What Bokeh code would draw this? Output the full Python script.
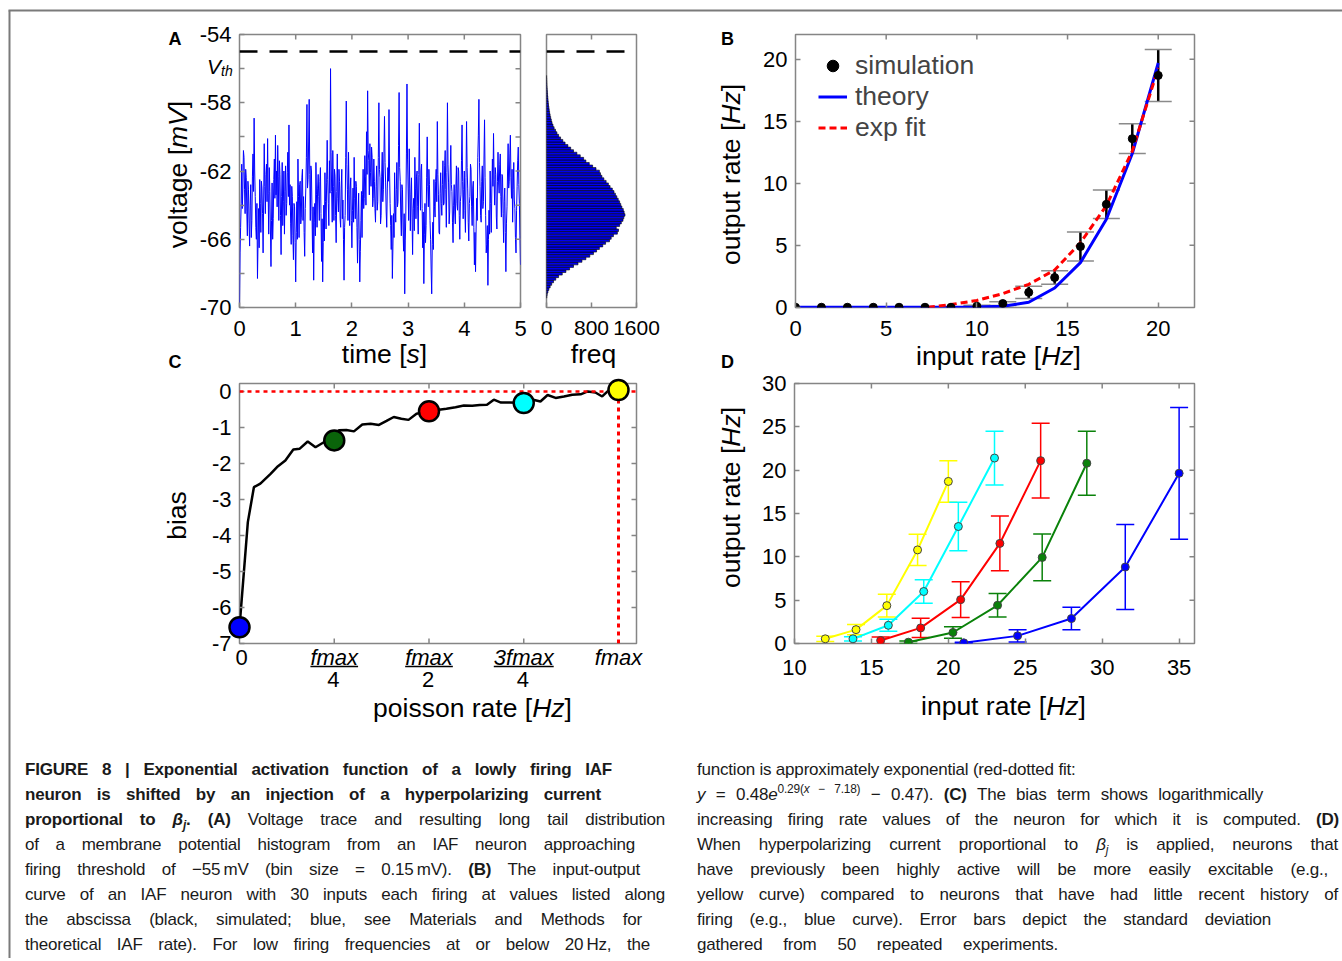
import numpy as np
from math import pi
from bokeh.plotting import figure
from bokeh.models import (Range1d, FixedTicker, Span, Whisker, TeeHead, GridBox,
                          ColumnDataSource, Legend, LegendItem, Div)
from bokeh.layouts import row, column
from bokeh.core.properties import value
from bokeh.embed import file_html
from bokeh.resources import INLINE

# ---------------- data ----------------
# Panel A: membrane voltage trace (mV), sampled every 0.01 s over 0..5 s
voltage_mv = [
    -70.0, -66.8, -65.3, -63.9, -61.6, -64.2, -63.0, -60.8, -61.2, -63.1, -64.5, -61.9, -62.4, -64.4, -65.8, -62.6, -63.1, -65.1, -66.4, -64.0,
    -62.8, -65.9, -64.9, -62.3, -61.0, -63.2, -58.9, -62.0, -63.5, -65.3, -66.0, -63.9, -68.3, -66.1, -64.2, -66.5, -62.5, -63.9, -65.6, -62.6,
    -63.0, -64.5, -66.8, -63.7, -60.4, -62.9, -64.5, -62.2, -61.6, -63.8, -60.1, -63.3, -65.7, -61.8, -63.2, -65.4, -67.6, -64.9, -62.7, -66.0,
    -64.8, -62.5, -61.3, -63.6, -59.9, -63.4, -62.0, -64.1, -60.5, -62.3, -64.9, -61.4, -62.2, -64.6, -66.9, -63.5, -61.5, -65.2, -63.8, -62.0,
    -65.7, -63.2, -61.7, -64.6, -63.9, -62.1, -60.9, -63.5, -59.3, -64.0, -62.8, -65.1, -66.3, -62.9, -63.5, -65.8, -67.2, -63.9, -64.1, -66.2,
    -68.5, -65.6, -63.8, -66.0, -61.3, -63.5, -65.9, -62.8, -62.6, -65.1, -64.7, -62.4, -61.9, -64.9, -63.5, -65.6, -67.0, -64.2, -63.0, -61.2,
    -58.1, -63.0, -62.5, -60.3, -57.8, -62.2, -64.9, -61.7, -62.0, -64.4, -66.8, -64.1, -68.4, -65.0, -63.9, -65.8, -61.5, -63.4, -65.3, -63.0,
    -62.2, -63.5, -64.9, -62.6, -61.8, -64.5, -67.3, -64.8, -68.5, -66.2, -64.0, -66.1, -62.1, -63.8, -65.4, -62.7, -60.2, -62.5, -63.9, -65.2,
    -61.4, -63.3, -56.0, -60.9, -63.2, -65.0, -60.8, -62.9, -64.9, -61.9, -62.3, -64.6, -66.2, -63.2, -61.0, -63.6, -64.4, -61.9, -62.6, -64.8,
    -65.3, -63.0, -61.9, -64.8, -63.7, -66.0, -68.4, -65.3, -64.6, -61.2, -57.9, -61.6, -63.1, -64.9, -60.9, -63.4, -65.2, -63.0, -62.4, -64.9,
    -66.5, -64.3, -63.0, -65.0, -61.2, -63.6, -64.8, -62.6, -62.9, -65.3, -67.4, -64.7, -63.3, -66.0, -68.5, -66.7, -64.9, -63.2, -65.9, -63.4,
    -61.9, -64.2, -63.6, -61.1, -62.3, -64.0, -59.7, -62.2, -57.3, -60.8, -61.4, -63.4, -60.4, -62.1, -62.9, -60.6, -61.2, -64.1, -63.6, -61.3,
    -62.6, -64.2, -65.0, -62.9, -61.7, -64.3, -63.8, -61.2, -58.0, -61.9, -62.4, -65.1, -64.6, -62.3, -60.9, -63.8, -63.1, -61.0, -58.8, -61.5,
    -62.7, -64.4, -65.3, -63.0, -61.8, -62.6, -58.4, -62.0, -63.9, -65.2, -66.6, -64.6, -68.3, -66.4, -64.5, -65.9, -62.1, -64.0, -65.0, -63.1,
    -61.5, -64.1, -63.8, -60.5, -57.4, -61.8, -62.6, -64.7, -65.8, -62.8, -63.1, -65.4, -66.7, -64.5, -69.2, -66.1, -64.4, -61.0, -56.9, -61.3,
    -63.0, -64.9, -60.7, -63.0, -65.5, -63.4, -62.4, -64.7, -66.9, -64.2, -63.6, -65.5, -61.2, -63.0, -64.8, -62.3, -62.0, -64.1, -65.7, -62.2,
    -59.2, -62.4, -64.3, -62.0, -61.6, -64.2, -66.5, -64.4, -68.6, -65.7, -63.9, -66.2, -65.2, -62.4, -60.0, -62.9, -64.1, -61.9, -62.8, -64.9,
    -66.0, -67.8, -69.2, -66.3, -65.0, -66.6, -62.5, -64.1, -64.7, -62.6, -61.9, -63.8, -59.1, -62.2, -63.4, -65.6, -65.7, -63.3, -62.1, -63.9,
    -64.6, -62.8, -61.4, -64.0, -63.9, -61.7, -60.8, -63.1, -65.3, -62.1, -58.0, -61.6, -62.7, -65.1, -64.4, -62.0, -60.5, -62.8, -63.2, -65.0,
    -66.2, -64.0, -62.8, -64.4, -65.1, -63.0, -61.7, -63.9, -64.3, -61.8, -62.0, -64.6, -66.0, -63.8, -63.4, -61.4, -59.3, -62.6, -64.8, -63.1,
    -62.0, -64.3, -65.6, -62.4, -59.1, -61.8, -63.0, -65.0, -66.1, -63.9, -63.5, -61.6, -61.9, -64.1, -65.2, -63.0, -62.6, -65.3, -67.5, -65.6,
    -67.9, -65.4, -63.6, -64.9, -61.2, -59.9, -57.8, -61.5, -62.9, -64.6, -65.0, -62.6, -61.7, -64.2, -63.8, -61.3, -59.0, -62.4, -64.6, -66.8,
    -66.3, -65.2, -68.7, -66.0, -64.3, -65.7, -62.0, -63.9, -65.6, -63.0, -61.3, -62.9, -59.8, -62.5, -64.0, -61.8, -62.2, -64.7, -65.4, -62.6,
    -60.9, -62.7, -63.3, -61.6, -61.0, -63.5, -64.7, -62.2, -62.3, -64.5, -66.2, -63.8, -63.0, -65.6, -67.9, -65.1, -64.1, -62.0, -60.4, -63.0,
    -62.6, -61.0, -59.9, -62.4, -63.6, -61.9, -65.0, -63.1, -61.5, -63.7, -64.2, -65.9, -66.8, -64.3, -62.9, -61.4, -60.6, -62.8, -63.9, -65.8,
    -67.5,
]
trace_duration_s = 5.0
v_threshold = -55.0

# Panel A (right): histogram of membrane potential, 0.15 mV bins
hist_first_edge = -69.45
hist_bin_mv = 0.15
hist_counts = [
    5, 12, 25, 42, 65, 92, 125, 165, 215, 280,
    345, 410, 480, 560, 630, 700, 770, 835, 890, 940,
    1000, 1050, 1120, 1150, 1190, 1260, 1280, 1240, 1300, 1330,
    1360, 1375, 1395, 1380, 1365, 1340, 1320, 1300, 1275, 1250,
    1225, 1200, 1170, 1130, 1100, 1060, 1020, 985, 960, 940,
    880, 820, 760, 700, 660, 600, 540, 480, 430, 380,
    330, 290, 250, 215, 185, 160, 135, 115, 98, 85,
    74, 64, 55, 48, 42, 36, 31, 27, 23, 19,
    16, 13, 10, 8, 6, 4, 2,
]

# Panel B: input-output curve
b_input_hz = [0, 1.43, 2.86, 4.29, 5.71, 7.14, 8.57, 10.0, 11.43, 12.86, 14.29, 15.71, 17.14, 18.57, 20.0]
b_sim_hz = [0, 0, 0, 0, 0, 0, 0, 0.08, 0.3, 1.2, 2.4, 4.9, 8.3, 13.6, 18.7]
b_sim_sd = [0, 0, 0, 0, 0, 0, 0, 0.08, 0.15, 0.5, 0.55, 1.17, 1.15, 1.2, 2.1]
b_theory_hz = [0, 0, 0, 0, 0, 0, 0, 0.02, 0.08, 0.4, 1.55, 3.6, 7.1, 12.4, 19.7]
b_fit_input = [7.3, 8.57, 10.0, 11.43, 12.86, 14.29, 15.71, 17.14, 18.57, 20.0]
b_fit_hz = [0.0, 0.22, 0.55, 1.1, 1.85, 3.0, 5.2, 8.2, 12.6, 19.3]

# Panel C: bias vs poisson rate (fraction of fmax)
c_rate = [0, 0.022, 0.038, 0.055, 0.082, 0.099, 0.121, 0.142, 0.159, 0.180,
          0.2005, 0.2225, 0.25, 0.262, 0.282, 0.302, 0.324, 0.346, 0.368, 0.388,
          0.407, 0.427, 0.446, 0.467, 0.50, 0.526, 0.546, 0.570, 0.592, 0.614,
          0.634, 0.653, 0.671, 0.690, 0.713, 0.75, 0.775, 0.794, 0.813, 0.834,
          0.856, 0.878, 0.900, 0.919, 0.939, 0.957, 0.974, 1.0]
c_bias = [-6.55, -3.63, -2.66, -2.56, -2.29, -2.10, -1.92, -1.61, -1.59, -1.39,
          -1.55, -1.41, -1.36, -1.08, -1.07, -1.11, -0.92, -0.90, -0.93, -0.82,
          -0.71, -0.76, -0.79, -0.62, -0.55, -0.51, -0.48, -0.44, -0.39, -0.40,
          -0.38, -0.37, -0.23, -0.31, -0.31, -0.32, -0.23, -0.28, -0.10, -0.18,
          -0.14, -0.09, -0.08, 0.0, -0.03, -0.14, 0.03, 0.04]
c_mark_rate = [0, 0.25, 0.5, 0.75, 1.0]
c_mark_bias = [-6.55, -1.36, -0.55, -0.32, 0.04]
c_mark_colors = ["#0000ff", "#0a640a", "#ff0000", "#00ffff", "#ffff00"]
c_tick_rate = [0, 0.25, 0.5, 0.75, 1.0]
c_tick_num = ["0", "fmax", "fmax", "3fmax", "fmax"]
c_tick_den = ["", "4", "2", "4", ""]
fmax = 1.0

# Panel D: shifted input-output curves (colour, input Hz, output Hz, sd)
d_series = [
    ("#ffff00", [12.0, 14.0, 16.0, 18.0, 20.0], [0.54, 1.6, 4.37, 10.8, 18.7], [0.3, 0.6, 1.3, 1.8, 2.4]),
    ("#00ffff", [13.8, 16.1, 18.4, 20.65, 23.0], [0.54, 2.1, 6.0, 13.5, 21.4], [0.25, 0.7, 1.35, 2.8, 3.1]),
    ("#ff0000", [15.6, 18.2, 20.8, 23.35, 26.0], [0.35, 1.8, 5.06, 11.55, 21.1], [0.4, 1.1, 2.07, 3.15, 4.3]),
    ("#0a820a", [17.4, 20.3, 23.2, 26.1, 29.0], [0.15, 1.27, 4.41, 9.93, 20.8], [0.15, 0.65, 1.35, 2.7, 3.7]),
    ("#0000ff", [21.0, 24.5, 28.0, 31.5, 35.0], [0.08, 0.88, 2.88, 8.82, 19.64], [0.05, 0.7, 1.3, 4.9, 7.6]),
]

# ---------------- styling helpers ----------------
FONT = "Liberation Sans"
FRAME = "#858585"
TICK_FS = "22px"
AXIS_FS = 26.5
W_ALL, H_ALL = 1342, 958          # layout size (page origin at 0,0)

AW = {'a': 556, 'b': 556, 'c': 500, 'd': 556, 'e': 556, 'f': 278, 'g': 556, 'h': 556, 'i': 222,
      'j': 222, 'k': 500, 'l': 222, 'm': 833, 'n': 556, 'o': 556, 'p': 556, 'q': 556, 'r': 333,
      's': 500, 't': 278, 'u': 556, 'v': 500, 'w': 722, 'x': 500, 'y': 500, 'z': 500, ' ': 278,
      '[': 278, ']': 278, 'H': 722, 'V': 667}


def tw(s, size):
    return sum(AW.get(ch, 556) for ch in s) * size / 1000.0


def mkfig(w, h, xr, yr, bl, br, bt, bb):
    p = figure(width=w, height=h, x_range=Range1d(*xr), y_range=Range1d(*yr),
               output_backend="svg", toolbar_location=None,
               min_border_left=bl, min_border_right=br, min_border_top=bt, min_border_bottom=bb,
               background_fill_color="white", border_fill_color="white")
    p.grid.visible = False
    p.outline_line_color = FRAME
    p.outline_line_width = 1.5
    return p


def style_axis(ax, ticks, overrides=None, standoff=8, size=TICK_FS):
    ax.ticker = FixedTicker(ticks=ticks)
    ax.axis_line_color = None
    ax.major_tick_in = 5
    ax.major_tick_out = 0
    ax.major_tick_line_color = FRAME
    ax.major_tick_line_width = 1.5
    ax.minor_tick_line_color = None
    ax.major_label_text_font = FONT
    ax.major_label_text_font_size = size
    ax.major_label_text_color = "black"
    ax.major_label_standoff = standoff
    if overrides:
        ax.major_label_overrides = overrides


def mirror_ticks(p, xt, yt, xr, yr):
    """inward ticks on the top and right edges of the box"""
    if xt:
        p.scatter(x=xt, y=[yr[1]] * len(xt), marker="dash", angle=pi / 2, size=10,
                  line_color=FRAME, line_width=1.5)
    if yt:
        p.scatter(x=[xr[1]] * len(yt), y=yt, marker="dash", size=10,
                  line_color=FRAME, line_width=1.5)


# ---------------- Panel A: voltage trace ----------------
A_XR, A_YR = (0, 5), (-70, -54)
pA = mkfig(533, 372, A_XR, A_YR, 239, 13, 34, 65)
style_axis(pA.below[0], [0, 1, 2, 3, 4, 5], standoff=13)
style_axis(pA.left[0], list(range(-70, -53, 2)),
           overrides={-70: "-70", -68: "", -66: "-66", -64: "", -62: "-62", -60: "",
                      -58: "-58", -56: "", -54: "-54"})
t_s = np.linspace(0, trace_duration_s, len(voltage_mv))
pA.line(t_s, voltage_mv, line_color="#0000ff", line_width=1)
pA.add_layout(Span(location=v_threshold, dimension="width", line_color="black",
                   line_width=2.5, line_dash="18 12"))
mirror_ticks(pA, [1, 2, 3, 4], list(range(-68, -55, 2)), A_XR, A_YR)

# ---------------- Panel A: histogram ----------------
H_XR = (0, 1600)
pH = mkfig(129, 372, H_XR, A_YR, 13, 26, 34, 65)
pH.left[0].visible = False
style_axis(pH.below[0], [0, 800, 1600], standoff=13, size="21px")
centers = hist_first_edge + hist_bin_mv * (np.arange(len(hist_counts)) + 0.5)
pH.hbar(y=centers, left=0, right=hist_counts, height=hist_bin_mv,
        fill_color="#0000ee", line_color="black", line_width=0.6)
pH.add_layout(Span(location=v_threshold, dimension="width", line_color="black",
                   line_width=2.5, line_dash="18 12"))
mirror_ticks(pH, [800], None, H_XR, A_YR)

# ---------------- Panel B ----------------
B_XR, B_YR = (0, 22), (-0.02, 22)
pB = mkfig(680, 372, B_XR, B_YR, 133, 148, 34, 65)
style_axis(pB.below[0], [0, 5, 10, 15, 20], standoff=13)
style_axis(pB.left[0], [0, 5, 10, 15, 20])
b_src = ColumnDataSource(dict(x=b_input_hz,
                              upper=[y + s for y, s in zip(b_sim_hz, b_sim_sd)],
                              lower=[y - s for y, s in zip(b_sim_hz, b_sim_sd)]))
pB.add_layout(Whisker(source=b_src, base="x", upper="upper", lower="lower",
                      line_color="black", line_width=2.5,
                      upper_head=TeeHead(size=27, line_color="#8a8a8a", line_width=1.5),
                      lower_head=TeeHead(size=27, line_color="#8a8a8a", line_width=1.5)))
r_theory = pB.line(b_input_hz, b_theory_hz, line_color="#0000ff", line_width=3)
r_fit = pB.line(b_fit_input, b_fit_hz, line_color="#ff0000", line_width=3, line_dash="7 4")
r_sim = pB.scatter(b_input_hz, b_sim_hz, size=8, fill_color="black", line_color="black")
mirror_ticks(pB, [5, 10, 15, 20], [5, 10, 15, 20], B_XR, B_YR)
legend = Legend(items=[LegendItem(label="simulation", renderers=[r_sim]),
                       LegendItem(label="theory", renderers=[r_theory]),
                       LegendItem(label="exp fit", renderers=[r_fit])],
                location=(23, 164), padding=0, margin=0, spacing=0,
                glyph_width=29, glyph_height=31, label_height=31, label_standoff=8,
                label_text_font=FONT, label_text_font_size=f"{AXIS_FS}px",
                border_line_color=None, background_fill_alpha=0)
pB.add_layout(legend)

# ---------------- Panel C ----------------
C_XR, C_YR = (0, 1.0475), (-7, 0.22)
pC = mkfig(662, 368, C_XR, C_YR, 239, 26, 11, 97)
pC.below[0].visible = False
style_axis(pC.left[0], [-7, -6, -5, -4, -3, -2, -1, 0],
           overrides={-7: "-7", -6: "-6", -5: "-5", -4: "-4", -3: "-3", -2: "-2", -1: "-1", 0: "0"})
pC.add_layout(Span(location=0, dimension="width", line_color="#ff0000", line_width=2.5,
                   line_dash="4 4"))
pC.segment(x0=[fmax], y0=[0], x1=[fmax], y1=[-7.5], line_color="#ff0000", line_width=3,
           line_dash="4 4")
pC.line(c_rate, c_bias, line_color="black", line_width=2.5)
mirror_ticks(pC, [0.25, 0.5, 0.75], [-6, -5, -4, -3, -2, -1], C_XR, C_YR)
pC.scatter(x=[0.25, 0.5, 0.75], y=[C_YR[0]] * 3, marker="dash", angle=pi / 2, size=10,
           line_color=FRAME, line_width=1.5)

# ---------------- Panel D ----------------
D_XR, D_YR = (10, 36), (0, 30)
pD = mkfig(680, 368, D_XR, D_YR, 132, 148, 11, 97)
style_axis(pD.below[0], [10, 15, 20, 25, 30, 35], standoff=16)
style_axis(pD.left[0], [0, 5, 10, 15, 20, 25, 30])
for color, xs, ys, sds in d_series:
    src = ColumnDataSource(dict(x=xs, upper=[y + s for y, s in zip(ys, sds)],
                                lower=[y - s for y, s in zip(ys, sds)]))
    pD.add_layout(Whisker(source=src, base="x", upper="upper", lower="lower",
                          line_color=color, line_width=1.5,
                          upper_head=TeeHead(size=18, line_color=color, line_width=1.5),
                          lower_head=TeeHead(size=18, line_color=color, line_width=1.5)))
    pD.line(xs, ys, line_color=color, line_width=2)
    pD.scatter(xs, ys, size=8, fill_color=color, line_color="#444444", line_width=1)
mirror_ticks(pD, [15, 20, 25, 30, 35], [5, 10, 15, 20, 25], D_XR, D_YR)

# ---------------- caption ----------------
left_lines = [
    (587, "<b>FIGURE 8 | Exponential activation function of a lowly firing IAF</b>"),
    (576, "<b>neuron is shifted by an injection of a hyperpolarizing current</b>"),
    (640, "<b>proportional to <i>&beta;<sub>j</sub></i>. (A)</b> Voltage trace and resulting long tail distribution"),
    (610, "of a membrane potential histogram from an IAF neuron approaching"),
    (615, "firing threshold of &minus;55&#8201;mV (bin size = 0.15&#8201;mV). <b>(B)</b> The input-output"),
    (640, "curve of an IAF neuron with 30 inputs each firing at values listed along"),
    (617, "the abscissa (black, simulated; blue, see Materials and Methods for"),
    (625, "theoretical IAF rate). For low firing frequencies at or below 20&#8201;Hz, the"),
]
right_lines = [
    (376, "function is approximately exponential (red-dotted fit:"),
    (566, "<i>y</i> = 0.48<i>e</i><sup>0.29(<i>x</i> &minus; 7.18)</sup> &minus; 0.47). <b>(C)</b> The bias term shows logarithmically"),
    (642, "increasing firing rate values of the neuron for which it is computed. <b>(D)</b>"),
    (641, "When hyperpolarizing current proportional to <i>&beta;<sub>j</sub></i> is applied, neurons that"),
    (631, "have previously been highly active will be more easily excitable (e.g.,"),
    (641, "yellow curve) compared to neurons that have had little recent history of"),
    (574, "firing (e.g., blue curve). Error bars depict the standard deviation"),
    (361, "gathered from 50 repeated experiments."),
]


def caption_html(lines, pad_left):
    out = [f'<div style="font-family:\'Liberation Sans\',Arial,sans-serif;font-size:17px;'
           f'letter-spacing:-0.2px;color:#1a1a1a;padding-top:16.5px;padding-left:{pad_left}px;margin:0;">']
    for w, html in lines:
        out.append(f'<div style="width:{w}px;height:25.1px;line-height:25.1px;margin:0;'
                   f'text-align:justify;text-align-last:justify;white-space:nowrap;">{html}</div>')
    out.append('</div>')
    return "".join(out).replace("<sub>", '<sub style="font-size:70%;line-height:0;">').replace(
        "<sup>", '<sup style="font-size:70%;line-height:0;">')


capL = Div(text=caption_html(left_lines, 25), width=672, height=218, margin=0)
capR = Div(text=caption_html(right_lines, 25), width=670, height=218, margin=0)

main = column(row(pA, pH, pB), row(pC, pD), row(capL, capR))

# ---------------- transparent overlay for texts outside the plot boxes ----------------
ov = figure(width=W_ALL, height=H_ALL, x_range=Range1d(0, W_ALL), y_range=Range1d(0, H_ALL),
            output_backend="svg", toolbar_location=None, min_border=0,
            background_fill_alpha=0, border_fill_alpha=0)
ov.axis.visible = False
ov.grid.visible = False
ov.outline_line_color = None


def ox(px):
    return px


def oy(py):
    return H_ALL - py


def ov_text(px, py, text, size, style="normal", align="center", baseline="middle", angle=0):
    ov.text(x=[ox(px)], y=[oy(py)], text=[text], text_font=value(FONT),
            text_font_size=value(f"{size}px"), text_font_style=style, text_align=align,
            text_baseline=baseline, angle=angle, text_color="black")


def ov_rich(segs, cx, cy, size=AXIS_FS, vertical=False):
    widths = [tw(t, size) for t, _ in segs]
    total = sum(widths)
    if vertical:
        x, y = cx, cy + total / 2
    else:
        x, y = cx - total / 2, cy
    for (t, it), w in zip(segs, widths):
        ov_text(x, y, t, size, "italic" if it else "normal", align="left",
                angle=pi / 2 if vertical else 0)
        if vertical:
            y -= w
        else:
            x += w


# figure border lines
ov.segment(x0=[ox(8)], y0=[oy(10)], x1=[ox(1345)], y1=[oy(10)], line_color="#7a7a7a", line_width=2)
ov.segment(x0=[ox(9)], y0=[oy(10)], x1=[ox(9)], y1=[oy(970)], line_color="#7a7a7a", line_width=2)

# panel letters
ov_text(174.5, 38.5, "A", 18, "bold")
ov_text(727, 38, "B", 18, "bold")
ov_text(174.5, 361, "C", 18, "bold")
ov_text(727, 361, "D", 18, "bold")

# threshold label
ov_text(206.5, 66, "V", 21, "italic", align="left", baseline="alphabetic")
ov_text(220.5, 70, "th", 14, "italic", align="left", baseline="alphabetic")

# axis titles
ov_rich([("voltage [", False), ("mV", True), ("]", False)], 177, 174, vertical=True)
ov_rich([("time [", False), ("s", True), ("]", False)], 384, 353)
ov_text(593, 353, "freq", AXIS_FS)
ov_rich([("output rate [", False), ("Hz", True), ("]", False)], 730, 174, vertical=True)
ov_rich([("input rate [", False), ("Hz", True), ("]", False)], 998, 355)
ov_text(176, 515, "bias", AXIS_FS, angle=pi / 2)
ov_rich([("poisson rate [", False), ("Hz", True), ("]", False)], 472, 707)
ov_rich([("output rate [", False), ("Hz", True), ("]", False)], 730, 497, vertical=True)
ov_rich([("input rate [", False), ("Hz", True), ("]", False)], 1003, 705)

# panel C: data ranges laid over the page so the markers are not cut by the box
C_BOX = (239, 636, 383, 643)          # left, right, top, bottom (page px)
cx_unit = (C_BOX[1] - C_BOX[0]) / (C_XR[1] - C_XR[0])
cy_unit = (C_BOX[3] - C_BOX[2]) / (C_YR[1] - C_YR[0])
cx0 = C_XR[0] - ox(C_BOX[0]) / cx_unit
cy0 = C_YR[0] - oy(C_BOX[3]) / cy_unit
ov.extra_x_ranges = {"c": Range1d(cx0, cx0 + W_ALL / cx_unit)}
ov.extra_y_ranges = {"c": Range1d(cy0, cy0 + H_ALL / cy_unit)}
ov.scatter(c_mark_rate, c_mark_bias, size=20, fill_color=c_mark_colors, line_color="black",
           line_width=2.5, x_range_name="c", y_range_name="c")

# panel C fractional tick labels
for r, num, den in zip(c_tick_rate, c_tick_num, c_tick_den):
    px = C_BOX[0] + r * cx_unit
    if num == "0":
        ov_text(px + 2, 657, num, 22)
    else:
        ov_text(px, 657, num, 22, "italic")
    if den:
        hw = tw(num, 22) / 2
        ov.segment(x0=[ox(px - hw)], y0=[oy(666)], x1=[ox(px + hw)], y1=[oy(666)],
                   line_color="black", line_width=1.5)
        ov_text(px - 1, 679, den, 22)

root = GridBox(children=[(main, 0, 0), (ov, 0, 0)])

open("out.html", "w").write(file_html(root, INLINE, title="Figure 8"))
